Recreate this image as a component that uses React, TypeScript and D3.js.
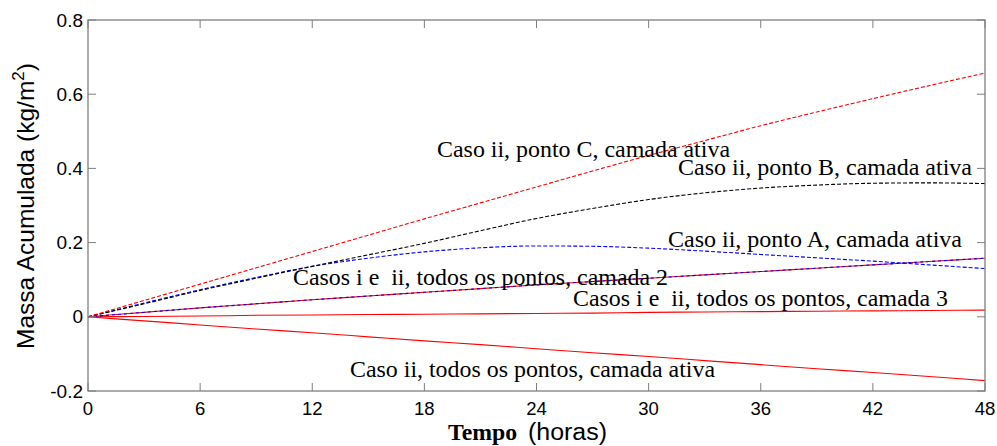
import React, { useRef, useEffect } from 'react';
import * as d3 from 'd3';

const hours = [0, 3, 6, 9, 12, 15, 18, 21, 24, 27, 30, 33, 36, 39, 42, 45, 48];

const pontoC = [0, 0.044, 0.088, 0.132, 0.176, 0.22, 0.264, 0.307, 0.35, 0.393, 0.435, 0.475, 0.515, 0.552, 0.588, 0.623, 0.657];
const pontoB = [0, 0.035, 0.071, 0.104, 0.136, 0.167, 0.198, 0.232, 0.265, 0.292, 0.316, 0.334, 0.347, 0.355, 0.36, 0.361, 0.359];
const pontoA = [0, 0.037, 0.073, 0.106, 0.136, 0.158, 0.175, 0.186, 0.191, 0.19, 0.185, 0.177, 0.168, 0.159, 0.15, 0.14, 0.13];
const camada2 = [0, 0.012, 0.024, 0.035, 0.046, 0.056, 0.066, 0.076, 0.086, 0.095, 0.104, 0.113, 0.122, 0.131, 0.14, 0.149, 0.158];
const camada3 = [0, 0.001, 0.002, 0.004, 0.005, 0.006, 0.007, 0.008, 0.009, 0.010, 0.012, 0.013, 0.014, 0.015, 0.016, 0.017, 0.018];
const todosAtiva = [0, -0.011, -0.022, -0.033, -0.043, -0.054, -0.065, -0.075, -0.086, -0.097, -0.107, -0.118, -0.129, -0.14, -0.15, -0.161, -0.172];

const xTicks = [0, 6, 12, 18, 24, 30, 36, 42, 48];
const yTicks = [-0.2, 0, 0.2, 0.4, 0.6, 0.8];

const series = [
  { values: todosAtiva, color: '#ff0000', dash: null },
  { values: camada3, color: '#ff0000', dash: null },
  { values: camada2, color: '#ff0000', dash: null },
  { values: camada2, color: '#0000ff', dash: '3,3' },
  { values: pontoA, color: '#0000ff', dash: '4,2' },
  { values: pontoB, color: '#000000', dash: '4,2' },
  { values: pontoC, color: '#ff0000', dash: '4,2' },
];

const labels = [
  { text: 'Caso ii, ponto C, camada ativa', x: 437, y: 157, w: 293 },
  { text: 'Caso ii, ponto B, camada ativa', x: 678, y: 175, w: 294 },
  { text: 'Caso ii, ponto A, camada ativa', x: 668, y: 247, w: 294 },
  { text: 'Casos i e  ii, todos os pontos, camada 2', x: 293, y: 285, w: 375 },
  { text: 'Casos i e  ii, todos os pontos, camada 3', x: 573, y: 306, w: 375 },
  { text: 'Caso ii, todos os pontos, camada ativa', x: 350, y: 377, w: 365 },
];

const App = () => {
  const ref = useRef(null);

  useEffect(() => {
    const width = 997;
    const height = 446;
    const svg = d3.select(ref.current).attr('width', width).attr('height', height);
    svg.selectAll('*').remove();

    const left = 88, right = 985, top = 20, bottom = 391;

    const x = d3.scaleLinear().domain([0, 48]).range([left, right]);
    const y = d3.scaleLinear().domain([-0.2, 0.8]).range([bottom, top]);

    const line = d3.line()
      .x((d, i) => x(hours[i]))
      .y(d => y(d))
      .curve(d3.curveMonotoneX);

    series.forEach(s => {
      svg.append('path')
        .datum(s.values)
        .attr('fill', 'none')
        .attr('stroke', s.color)
        .attr('stroke-width', 1.1)
        .attr('stroke-dasharray', s.dash)
        .attr('d', line);
    });

    // frame and inward ticks on all sides
    const axisColor = '#7f7f7f';
    svg.append('rect')
      .attr('x', left).attr('y', top)
      .attr('width', right - left).attr('height', bottom - top)
      .attr('fill', 'none').attr('stroke', axisColor).attr('stroke-width', 1.3);

    const tickLen = 8;
    xTicks.forEach(t => {
      svg.append('line').attr('x1', x(t)).attr('x2', x(t)).attr('y1', bottom).attr('y2', bottom - tickLen)
        .attr('stroke', axisColor);
      svg.append('line').attr('x1', x(t)).attr('x2', x(t)).attr('y1', top).attr('y2', top + tickLen)
        .attr('stroke', axisColor);
      svg.append('text')
        .attr('x', x(t)).attr('y', 415)
        .attr('text-anchor', 'middle')
        .style('font-family', 'Liberation Sans, Arial, sans-serif')
        .style('font-size', '18.5px')
        .attr('fill', '#000')
        .text(t);
    });

    yTicks.forEach(v => {
      svg.append('line').attr('x1', left).attr('x2', left + tickLen).attr('y1', y(v)).attr('y2', y(v))
        .attr('stroke', axisColor);
      svg.append('line').attr('x1', right).attr('x2', right - tickLen).attr('y1', y(v)).attr('y2', y(v))
        .attr('stroke', axisColor);
      svg.append('text')
        .attr('x', 83).attr('y', y(v) + 6.5)
        .attr('text-anchor', 'end')
        .style('font-family', 'Liberation Sans, Arial, sans-serif')
        .style('font-size', '19px')
        .attr('fill', '#000')
        .text(v === 0 ? '0' : d3.format('.1f')(v).replace('−', '-'));
    });

    labels.forEach(l => {
      svg.append('text')
        .attr('x', l.x).attr('y', l.y)
        .attr('textLength', l.w)
        .attr('lengthAdjust', 'spacingAndGlyphs')
        .style('font-family', 'Liberation Serif, Times New Roman, serif')
        .style('font-size', '23px')
        .style('white-space', 'pre')
        .attr('fill', '#000')
        .text(l.text);
    });

    // y axis title
    const yt = svg.append('text')
      .attr('transform', 'translate(34,206) rotate(-90)')
      .attr('text-anchor', 'middle')
      .style('font-family', 'Liberation Sans, Arial, sans-serif')
      .style('font-size', '24.5px')
      .attr('fill', '#000');
    yt.append('tspan').text('Massa Acumulada (kg/m');
    yt.append('tspan').attr('dy', -10).style('font-size', '17px').text('2');
    yt.append('tspan').attr('dy', 10).text(')');

    // x axis title
    svg.append('text')
      .attr('x', 448).attr('y', 440)
      .attr('textLength', 69)
      .attr('lengthAdjust', 'spacingAndGlyphs')
      .style('font-family', 'Liberation Serif, Times New Roman, serif')
      .style('font-weight', 'bold')
      .style('font-size', '23px')
      .attr('fill', '#000')
      .text('Tempo');
    svg.append('text')
      .attr('x', 528).attr('y', 440)
      .attr('textLength', 79)
      .attr('lengthAdjust', 'spacingAndGlyphs')
      .style('font-family', 'Liberation Sans, Arial, sans-serif')
      .style('font-size', '23px')
      .attr('fill', '#000')
      .text('(horas)');
  }, []);

  return <svg ref={ref} style={{ position: 'absolute', left: 0, top: 0 }} />;
};

export default App;
